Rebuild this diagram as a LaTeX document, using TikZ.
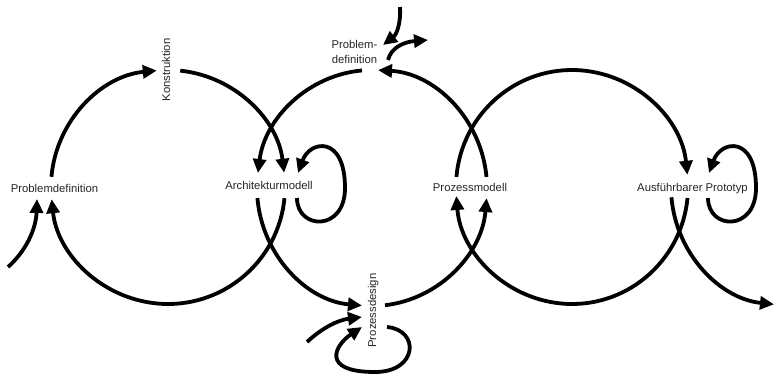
\documentclass[tikz,border=0pt]{standalone}
\usepackage{fontspec}
\setmainfont{Liberation Sans}
\usetikzlibrary{arrows.meta,calc}
\begin{document}
\begin{tikzpicture}[x=1pt,y=1pt,
  flow/.style={line width=3.8pt,-{Triangle[length=14pt,width=13pt]}},
  lbl/.style={inner sep=0pt,font=\fontsize{11.3}{14.4}\selectfont,text=black!85}]
\useasboundingbox (0,0) rectangle (775,376);

% labels
\node[lbl,anchor=base] (pd1) at (54.5,184) {Problemdefinition};
\node[lbl,anchor=base,rotate=90] (kon) at (170,306) {Konstruktion};
\node[lbl,anchor=base] (arch) at (269,187) {Architekturmodell};
\node[lbl,align=center] (pd2) at (354.5,324) {Problem-\\definition};
\node[lbl,anchor=base,rotate=90] (pdes) at (376,65.5) {Prozessdesign};
\node[lbl,anchor=base] (pm) at (470,184.5) {Prozessmodell};
\node[lbl,anchor=base] (ap) at (692.5,185) {Ausführbarer Prototyp};

% circle centres
\coordinate (cA) at (168,189);
\coordinate (cB) at (372,188);
\coordinate (cC) at (572,189);
\coordinate (cD) at (786,189);

% left circle
\draw[flow] ($(cA)+(175:117)$) arc[start angle=175,end angle=95.5,radius=117];
\draw[flow] ($(cA)+(84:117)$) arc[start angle=84,end angle=7,radius=117];
\draw[flow] ($(cA)+(-5.5:117)$) arc[start angle=-5.5,end angle=-174,radius=117];

% middle circle
\draw[flow] ($(cB)+(5.4:115 and 118)$) arc[start angle=5.4,end angle=87,x radius=115,y radius=118];
\draw[flow] ($(cB)+(95:115 and 118)$) arc[start angle=95,end angle=172.7,x radius=115,y radius=118];
\draw[flow] ($(cB)+(184.9:115 and 118)$) arc[start angle=184.9,end angle=265,x radius=115,y radius=118];
\draw[flow] ($(cB)+(276.5:115 and 118)$) arc[start angle=276.5,end angle=355.1,x radius=115,y radius=118];

% right circle
\draw[flow] ($(cC)+(175.1:116 and 117)$) arc[start angle=175.1,end angle=6,x radius=116,y radius=117];
\draw[flow] ($(cC)+(-5.4:116 and 117)$) arc[start angle=-5.4,end angle=-175.6,x radius=116,y radius=117];

% exit
\draw[flow] ($(cD)+(185:115 and 118)$) arc[start angle=185,end angle=264,x radius=115,y radius=118];

% self loops
\draw[flow] (297,178) .. controls (297,146) and (345,144) .. (345,188)
                     .. controls (345,241) and (310,236) .. (298,203);
\draw[flow] (708,178) .. controls (708,146) and (756,144) .. (756,188)
                     .. controls (756,241) and (721,236) .. (709,203);
\draw[flow] (387,49) .. controls (420,46) and (418,4) .. (375,4)
                    .. controls (320,4) and (335,31) .. (362,49);

% external inputs / outputs
\coordinate (in1) at (8,109);
\coordinate (in1e) at (37,177);
\draw[flow] (in1) .. controls (25,124) and (36,146) .. (in1e);
\coordinate (in2) at (307,34);
\coordinate (in2e) at (362,59);
\draw[flow] (in2) .. controls (322,48) and (338,56) .. (in2e);
\coordinate (in3) at (400,369);
\coordinate (in3e) at (383,331);
\draw[flow] (in3) .. controls (401,351) and (396,341) .. (in3e);
\coordinate (out1) at (388,316);
\coordinate (out1e) at (428,336);
\draw[flow] (out1) .. controls (391,328) and (403,334) .. (out1e);
\end{tikzpicture}
\end{document}
